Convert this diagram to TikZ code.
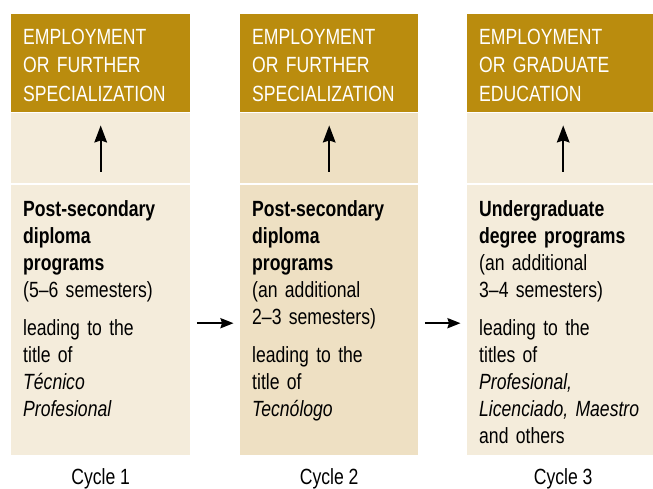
\documentclass[tikz,border=0pt]{standalone}
\usepackage{fontspec}
\setmainfont{Liberation Sans}[FakeStretch=0.80]
\usetikzlibrary{arrows.meta}
\hyphenpenalty=10000
\definecolor{gold}{HTML}{BA8C0E}
\definecolor{cream}{HTML}{F4ECDB}
\definecolor{sand}{HTML}{EEE0C3}
\tikzset{
  hdr/.style={fill=gold, text=white, anchor=north west, inner xsep=12pt, inner ysep=0pt,
    text height=30pt, text depth=68pt, align=left, font=\fontsize{22}{28.5}\selectfont},
  band/.style={anchor=north west, minimum height=70pt, inner sep=0pt},
  prog/.style={anchor=north west, inner xsep=12pt, inner ysep=0pt,
    text height=31pt, text depth=239pt, align=left, font=\fontsize{22}{27}\selectfont},
  toward/.style={-{Stealth[length=17pt,width=12.5pt,inset=2pt]}, line width=2.4pt,
    shorten <=13pt, shorten >=13pt},
  nextcycle/.style={-{Stealth[length=13pt,width=10pt,inset=1.5pt]}, line width=2.2pt,
    shorten <=6.5pt, shorten >=6.5pt},
  cyclelabel/.style={anchor=base, font=\fontsize{22}{27}\selectfont}
}

\begin{document}
\begin{tikzpicture}[x=1pt,y=-1pt]
\useasboundingbox (0,0) rectangle (653,489);
% cycle 1
\node[hdr, text width=155pt] (hdr1) at (11,14) {EMPLOYMENT\\ OR FURTHER\\ SPECIALIZATION};
\node[band, fill=cream, minimum width=179pt] (band1) at (11,113) {};
\node[prog, fill=cream, text width=155pt] (body1) at (11,185)
  {{\bfseries Post-secondary\\ diploma\\ programs}\\ (5--6 semesters)\\[11pt]
   leading to the\\ title of\\ \textit{Técnico}\\ \textit{Profesional}};
% cycle 2
\node[hdr, text width=154pt] (hdr2) at (240,14) {EMPLOYMENT\\ OR FURTHER\\ SPECIALIZATION};
\node[band, fill=sand, minimum width=178pt] (band2) at (240,113) {};
\node[prog, fill=sand, text width=154pt] (body2) at (240,185)
  {{\bfseries Post-secondary\\ diploma\\ programs}\\ (an additional\\ 2--3 semesters)\\[11pt]
   leading to the\\ title of\\ \textit{Tecnólogo}};
% cycle 3
\node[hdr, text width=168pt] (hdr3) at (467,14) {EMPLOYMENT\\ OR GRADUATE\\ EDUCATION};
\node[band, fill=cream, minimum width=192pt] (band3) at (467,113) {};
\node[prog, fill=cream, text width=168pt] (body3) at (467,185)
  {{\bfseries Undergraduate\\ degree programs}\\ (an additional\\ 3--4 semesters)\\[11pt]
   leading to the\\ titles of\\ \textit{Profesional,}\\ \textit{Licenciado, Maestro}\\ and others};

\draw[toward] (body1) -- (hdr1);
\draw[toward] (body2) -- (hdr2);
\draw[toward] (body3) -- (hdr3);
\draw[nextcycle] ([yshift=-3pt]body1.east) -- ([yshift=-3pt]body2.west);
\draw[nextcycle] ([yshift=-3pt]body2.east) -- ([yshift=-3pt]body3.west);

\node[cyclelabel] (lab1) at ([yshift=-29pt]body1.south) {Cycle 1};
\node[cyclelabel] (lab2) at ([yshift=-29pt]body2.south) {Cycle 2};
\node[cyclelabel] (lab3) at ([yshift=-29pt]body3.south) {Cycle 3};
\end{tikzpicture}
\end{document}
